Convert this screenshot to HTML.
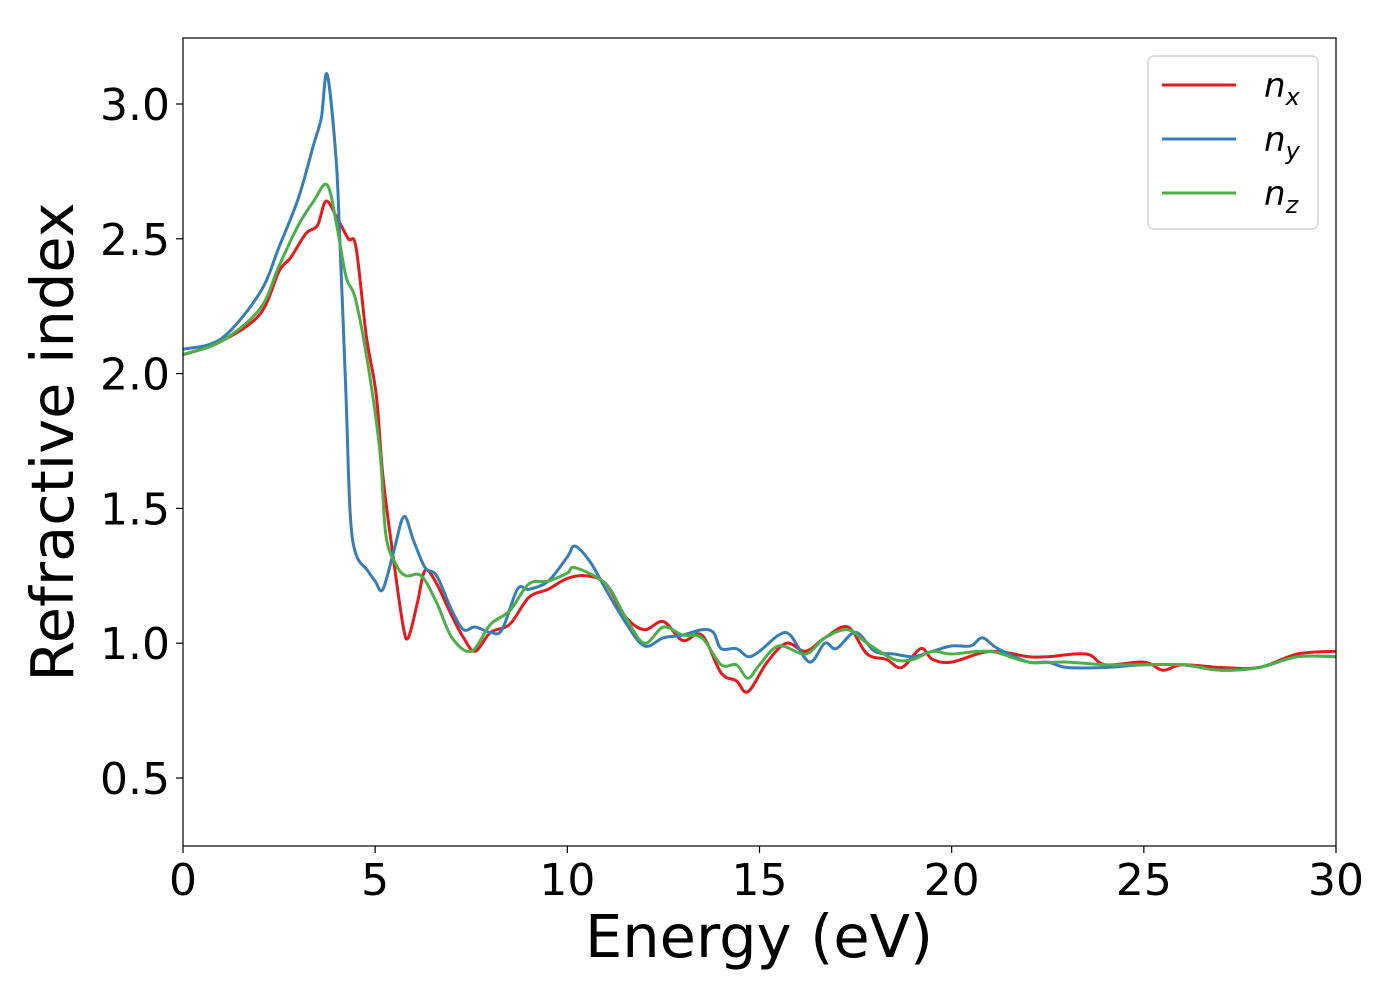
<!DOCTYPE html>
<html><head><meta charset="utf-8"><style>
body{margin:0;background:#fff;}
svg text{font-family:"DejaVu Sans","Liberation Sans",sans-serif;fill:#000;}
</style></head><body>
<svg id="chart" width="1400" height="1000" viewBox="0 0 1400 1000" xmlns="http://www.w3.org/2000/svg">
<rect x="0" y="0" width="1400" height="1000" fill="#fff"/>
<g id="series"></g>
<rect x="183" y="38" width="1153" height="808" fill="none" stroke="#000" stroke-width="1.2"/>
<g id="xticks"></g>
<g id="yticks"></g>
<text x="759" y="957" font-size="59" text-anchor="middle">Energy (eV)</text>
<text transform="translate(73,442) rotate(-90)" font-size="59" text-anchor="middle">Refractive index</text>
<g>
<rect x="1148" y="56" width="170" height="173" rx="6" fill="#fff" stroke="#ccc" stroke-width="1.2"/>
<line x1="1162" y1="85" x2="1236" y2="85" stroke="#e41a1c" stroke-width="3"/>
<text x="1264" y="97" font-size="34" font-style="italic">n<tspan font-size="24" dy="8">x</tspan></text>
<line x1="1162" y1="139" x2="1236" y2="139" stroke="#377eb8" stroke-width="3"/>
<text x="1264" y="151" font-size="34" font-style="italic">n<tspan font-size="24" dy="8">y</tspan></text>
<line x1="1162" y1="193" x2="1236" y2="193" stroke="#4daf4a" stroke-width="3"/>
<text x="1264" y="205" font-size="34" font-style="italic">n<tspan font-size="24" dy="8">z</tspan></text>
</g>
</svg>
<script>
const xTicks=[0,5,10,15,20,25,30];
const yTicks=[0.5,1.0,1.5,2.0,2.5,3.0];
const yTickLabels=["0.5","1.0","1.5","2.0","2.5","3.0"];
const nyE=[0,1,2,2.5,3,3.4,3.6,3.75,3.98,4.08,4.24,4.35,4.5,4.8,5.0,5.2,5.5,5.75,6.0,6.3,6.6,7.0,7.3,7.6,8.0,8.3,8.7,9.0,9.5,10.0,10.2,10.6,11.0,11.5,12.0,12.5,13.0,13.5,13.8,14.0,14.4,14.7,15.0,15.5,15.8,16.3,16.7,17.0,17.5,18.0,18.5,19.0,19.5,20.0,20.5,20.8,21.2,22,22.5,23,24,25,26,27,28,29,30];
const nyV=[2.09,2.13,2.30,2.47,2.65,2.85,2.95,3.11,2.80,2.50,1.92,1.48,1.33,1.27,1.23,1.20,1.35,1.47,1.38,1.28,1.25,1.12,1.05,1.06,1.04,1.05,1.20,1.20,1.23,1.32,1.36,1.30,1.20,1.08,0.99,1.02,1.03,1.05,1.04,0.98,0.98,0.95,0.97,1.03,1.03,0.93,1.00,0.98,1.04,0.97,0.96,0.95,0.97,0.99,0.99,1.02,0.98,0.93,0.93,0.91,0.91,0.92,0.92,0.90,0.91,0.95,0.95];
const nxE=[0,1,2,2.5,2.8,3.2,3.5,3.72,4.0,4.3,4.5,4.77,5.03,5.2,5.46,5.72,5.86,6.1,6.3,6.6,7.0,7.3,7.6,8.0,8.5,9.0,9.5,10.0,10.5,11.0,11.5,12.0,12.5,13.0,13.5,14.0,14.4,14.7,15.2,15.7,16.2,16.7,17.3,17.8,18.3,18.7,19.2,19.5,20,21,22,22.5,23.5,24,25,25.5,26,27,28,29,30];
const nxV=[2.07,2.12,2.22,2.38,2.43,2.52,2.55,2.64,2.58,2.50,2.47,2.14,1.92,1.62,1.33,1.07,1.02,1.15,1.27,1.22,1.10,1.02,0.97,1.04,1.07,1.17,1.20,1.24,1.25,1.22,1.10,1.05,1.08,1.01,1.03,0.89,0.86,0.82,0.93,1.00,0.97,1.02,1.06,0.96,0.94,0.91,0.98,0.94,0.93,0.97,0.95,0.95,0.96,0.92,0.93,0.90,0.92,0.91,0.91,0.96,0.97];
const nzE=[0,1,2,2.5,3,3.4,3.75,4.0,4.24,4.5,4.86,5.13,5.28,5.55,5.8,6.2,6.6,7.0,7.5,8.0,8.5,9.0,9.5,10.0,10.2,11.0,11.5,12.0,12.5,13.0,13.5,14.0,14.4,14.7,15.0,15.5,16.2,16.7,17.3,17.8,18.5,19.0,19.5,20,21,22,23,24,25,26,27,28,29,30];
const nzV=[2.07,2.12,2.24,2.40,2.55,2.64,2.70,2.55,2.36,2.27,1.99,1.70,1.40,1.29,1.25,1.25,1.15,1.02,0.97,1.07,1.12,1.22,1.23,1.26,1.28,1.22,1.10,1.00,1.06,1.03,1.02,0.92,0.92,0.87,0.92,0.99,0.96,1.02,1.05,1.00,0.94,0.94,0.97,0.96,0.97,0.93,0.93,0.92,0.92,0.92,0.90,0.91,0.95,0.95];

const X0=183,X1=1336,XMIN=0,XMAX=30;
const YV0=3.0,YP0=104,YV1=0.5,YP1=778;
function xScale(v){return X0+(v-XMIN)/(XMAX-XMIN)*(X1-X0);}
function yScale(v){return YP0+(v-YV0)/(YV1-YV0)*(YP1-YP0);}
const NS="http://www.w3.org/2000/svg";
function pathFor(E,V){
  const p=E.map((e,i)=>[xScale(e),yScale(V[i])]);
  let d="M"+p[0][0].toFixed(1)+","+p[0][1].toFixed(1);
  for(let i=0;i<p.length-1;i++){
    const p0=p[Math.max(0,i-1)],p1=p[i],p2=p[i+1],p3=p[Math.min(p.length-1,i+2)];
    const c1=[p1[0]+(p2[0]-p0[0])/6,p1[1]+(p2[1]-p0[1])/6];
    const c2=[p2[0]-(p3[0]-p1[0])/6,p2[1]-(p3[1]-p1[1])/6];
    d+=" C"+c1[0].toFixed(1)+","+c1[1].toFixed(1)+" "+c2[0].toFixed(1)+","+c2[1].toFixed(1)+" "+p2[0].toFixed(1)+","+p2[1].toFixed(1);
  }
  return d;
}
const sg=document.getElementById("series");
[[nxE,nxV,"#e41a1c","line-nx"],[nyE,nyV,"#377eb8","line-ny"],[nzE,nzV,"#4daf4a","line-nz"]].forEach(s=>{
  const el=document.createElementNS(NS,"path");
  el.setAttribute("d",pathFor(s[0],s[1]));
  el.setAttribute("fill","none");
  el.setAttribute("stroke",s[2]);
  el.setAttribute("stroke-width","3");
  el.setAttribute("stroke-linejoin","round");
  
  
  sg.appendChild(el);
});
const xg=document.getElementById("xticks");
xTicks.forEach(t=>{
  const x=xScale(t);
  const l=document.createElementNS(NS,"line");
  l.setAttribute("x1",x);l.setAttribute("x2",x);l.setAttribute("y1",846);l.setAttribute("y2",853);
  l.setAttribute("stroke","#000");l.setAttribute("stroke-width","1.2");
  
  
  xg.appendChild(l);
  const tx=document.createElementNS(NS,"text");
  tx.setAttribute("x",x);tx.setAttribute("y",895);tx.setAttribute("font-size","44");tx.setAttribute("text-anchor","middle");
  tx.textContent=String(t);
  
  
  xg.appendChild(tx);
});
const yg=document.getElementById("yticks");
yTicks.forEach((t,i)=>{
  const y=yScale(t);
  const l=document.createElementNS(NS,"line");
  l.setAttribute("x1",176);l.setAttribute("x2",183);l.setAttribute("y1",y);l.setAttribute("y2",y);
  l.setAttribute("stroke","#000");l.setAttribute("stroke-width","1.2");
  
  
  yg.appendChild(l);
  const tx=document.createElementNS(NS,"text");
  tx.setAttribute("x",170);tx.setAttribute("y",y+16);tx.setAttribute("font-size","44");tx.setAttribute("text-anchor","end");
  tx.textContent=yTickLabels[i];
  
  
  yg.appendChild(tx);
});
</script>
</body></html>
